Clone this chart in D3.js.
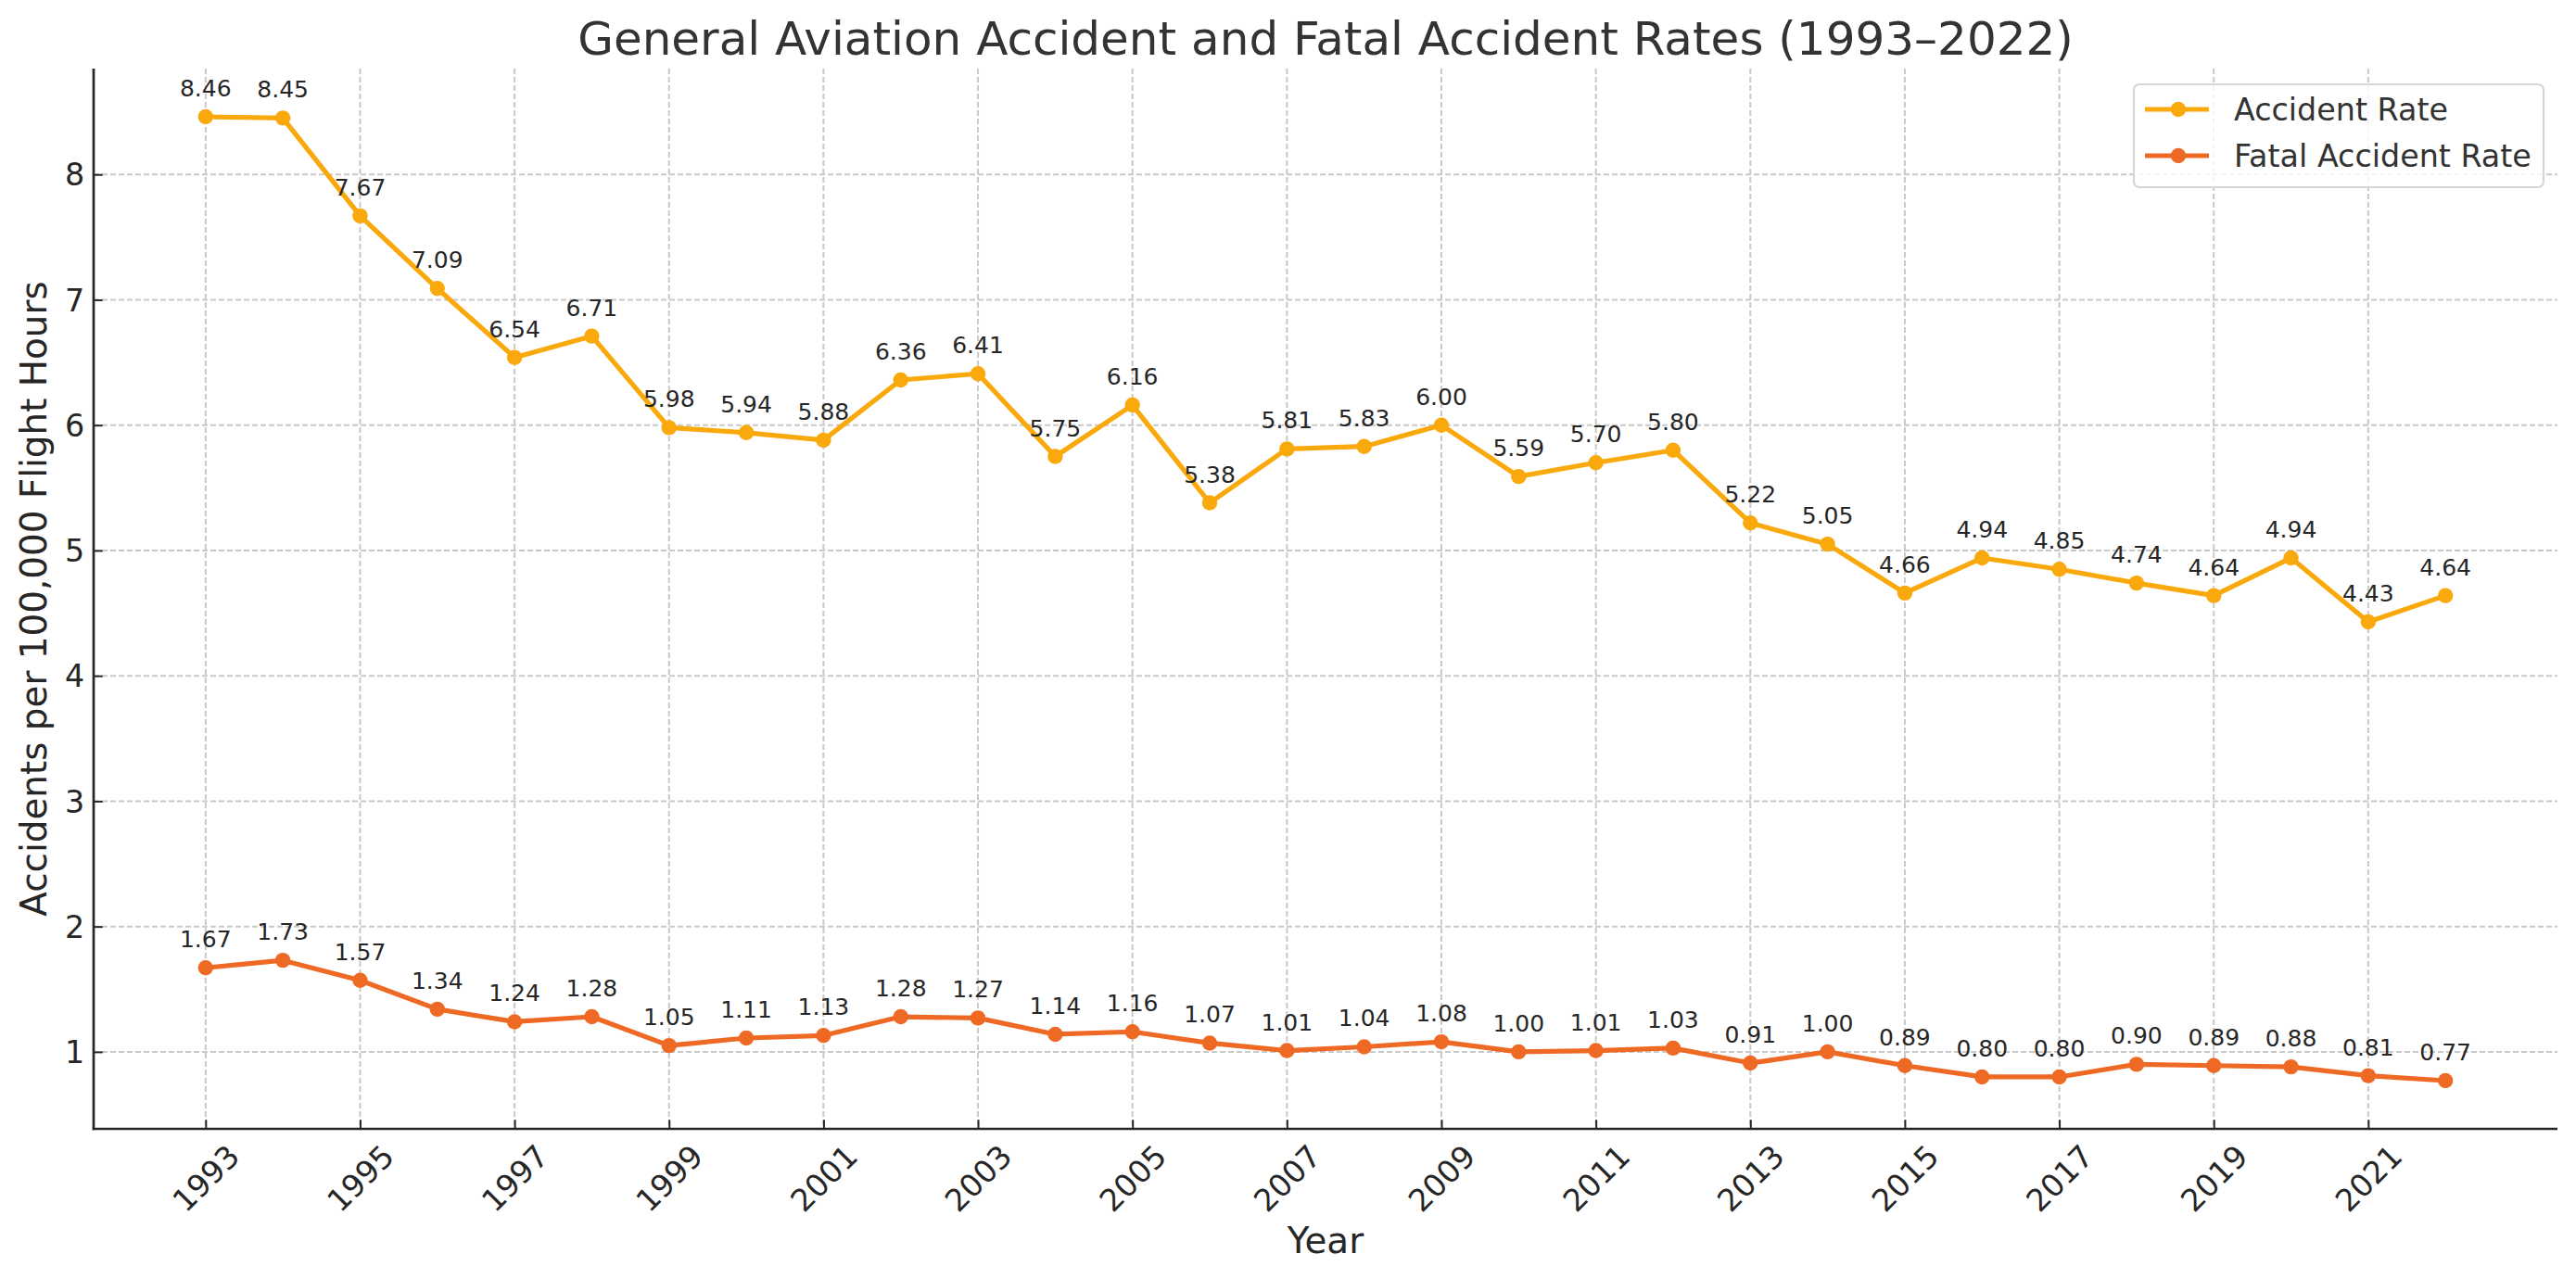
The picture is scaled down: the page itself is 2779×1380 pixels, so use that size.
<!DOCTYPE html>
<html>
<head>
<meta charset="utf-8">
<script src="https://cdn.jsdelivr.net/npm/d3@7"></script>
<style>
  body { margin: 0; background: #fff; }
  svg text { font-family: "DejaVu Sans", sans-serif; }
</style>
</head>
<body>
<div id="chart"></div>
<script>
// Data
const years = [1993, 1994, 1995, 1996, 1997, 1998, 1999, 2000, 2001, 2002,
               2003, 2004, 2005, 2006, 2007, 2008, 2009, 2010, 2011, 2012,
               2013, 2014, 2015, 2016, 2017, 2018, 2019, 2020, 2021, 2022];
const accidentRate = [8.46, 8.45, 7.67, 7.09, 6.54, 6.71, 5.98, 5.94, 5.88, 6.36,
                      6.41, 5.75, 6.16, 5.38, 5.81, 5.83, 6.00, 5.59, 5.70, 5.80,
                      5.22, 5.05, 4.66, 4.94, 4.85, 4.74, 4.64, 4.94, 4.43, 4.64];
const fatalRate = [1.67, 1.73, 1.57, 1.34, 1.24, 1.28, 1.05, 1.11, 1.13, 1.28,
                   1.27, 1.14, 1.16, 1.07, 1.01, 1.04, 1.08, 1.00, 1.01, 1.03,
                   0.91, 1.00, 0.89, 0.80, 0.80, 0.90, 0.89, 0.88, 0.81, 0.77];
const xTickYears = [1993, 1995, 1997, 1999, 2001, 2003, 2005, 2007,
                    2009, 2011, 2013, 2015, 2017, 2019, 2021];
const yTickValues = [1, 2, 3, 4, 5, 6, 7, 8];
const seriesNames = ["Accident Rate", "Fatal Accident Rate"];
const seriesColors = ["#f9a90b", "#ee6a24"];

const width = 2779;
const height = 1380;
const margin = { top: 74, right: 20, bottom: 162, left: 101 };
const pt = 200 / 72; // figure was drawn at 200 dpi

const series = seriesNames.map((name, i) => ({
    name: name,
    color: seriesColors[i],
    values: years.map((y, j) => ({ year: y, value: (i === 0 ? accidentRate : fatalRate)[j] }))
}));

// Scales padded by 5% like matplotlib autoscale
const xExt = d3.extent(years);
const xPad = (xExt[1] - xExt[0]) * 0.05;
const xScale = d3.scaleLinear()
    .domain([xExt[0] - xPad, xExt[1] + xPad])
    .range([margin.left, width - margin.right]);

const allValues = accidentRate.concat(fatalRate);
const yExt = d3.extent(allValues);
const yPad = (yExt[1] - yExt[0]) * 0.05;
const yScale = d3.scaleLinear()
    .domain([yExt[0] - yPad, yExt[1] + yPad])
    .range([height - margin.bottom, margin.top]);

const svg = d3.select("#chart")
    .append("svg")
    .attr("width", width)
    .attr("height", height)
    .attr("viewBox", `0 0 ${width} ${height}`);

svg.append("rect").attr("width", width).attr("height", height).attr("fill", "#fff");

const plotTop = margin.top;
const plotBottom = height - margin.bottom;
const plotLeft = margin.left;
const plotRight = width - margin.right;

// Grid
const grid = svg.append("g").attr("class", "grid")
    .attr("stroke", "#c9c9c9")
    .attr("stroke-width", 2)
    .attr("stroke-dasharray", "6,3");

grid.selectAll(".vgrid")
    .data(xTickYears)
    .enter()
    .append("line")
    .attr("x1", (d) => xScale(d))
    .attr("x2", (d) => xScale(d))
    .attr("y1", plotTop)
    .attr("y2", plotBottom);

grid.selectAll(".hgrid")
    .data(yTickValues)
    .enter()
    .append("line")
    .attr("x1", plotLeft)
    .attr("x2", plotRight)
    .attr("y1", (d) => yScale(d))
    .attr("y2", (d) => yScale(d));

// X axis (ticks point inward, labels rotated 45 degrees)
const xAxis = svg.append("g")
    .attr("id", "x-axis")
    .attr("transform", `translate(0, ${plotBottom})`)
    .call(
        d3.axisBottom(xScale)
            .tickValues(xTickYears)
            .tickFormat(d3.format("d"))
            .tickSizeInner(-3.5 * pt)
            .tickSizeOuter(0)
            .tickPadding(0)
    );
xAxis.select(".domain").remove();
xAxis.selectAll(".tick line").attr("stroke", "#262626").attr("stroke-width", 2);
xAxis.selectAll(".tick text")
    .attr("fill", "#262626")
    .style("font-size", `${12 * pt}px`)
    .attr("text-anchor", "middle")
    .attr("dy", "0.35em")
    .attr("y", null)
    .attr("transform", function () {
        const w = this.getComputedTextLength();
        const h = 12 * pt * 1.16;
        const c = 3.5 * pt + (w + h) * Math.SQRT1_2 / 2;
        return `translate(0, ${c}) rotate(-45)`;
    });

// Y axis
const yAxis = svg.append("g")
    .attr("id", "y-axis")
    .attr("transform", `translate(${plotLeft}, 0)`)
    .call(
        d3.axisLeft(yScale)
            .tickValues(yTickValues)
            .tickFormat(d3.format("d"))
            .tickSizeInner(-3.5 * pt)
            .tickSizeOuter(0)
            .tickPadding(3.5 * pt)
    );
yAxis.select(".domain").remove();
yAxis.selectAll(".tick line").attr("stroke", "#262626").attr("stroke-width", 2);
yAxis.selectAll(".tick text")
    .attr("fill", "#262626")
    .style("font-size", `${12 * pt}px`)
    .attr("x", -3.5 * pt)
    .attr("dy", "0.35em");

// Spines (left and bottom only)
svg.append("line")
    .attr("x1", plotLeft).attr("x2", plotLeft)
    .attr("y1", plotTop).attr("y2", plotBottom + 1.3)
    .attr("stroke", "#262626").attr("stroke-width", 2.7);
svg.append("line")
    .attr("x1", plotLeft - 1.3).attr("x2", plotRight)
    .attr("y1", plotBottom).attr("y2", plotBottom)
    .attr("stroke", "#262626").attr("stroke-width", 2.7);

// Lines and markers
const line = d3.line()
    .x((d) => xScale(d.year))
    .y((d) => yScale(d.value));

const seriesG = svg.selectAll(".series")
    .data(series)
    .enter()
    .append("g")
    .attr("class", "series");

seriesG.append("path")
    .attr("d", (d) => line(d.values))
    .attr("fill", "none")
    .attr("stroke", (d) => d.color)
    .attr("stroke-width", 5.2)
    .attr("stroke-linejoin", "round");

seriesG.each(function (s) {
    const g = d3.select(this);
    g.selectAll("circle")
        .data(s.values)
        .enter()
        .append("circle")
        .attr("cx", (d) => xScale(d.year))
        .attr("cy", (d) => yScale(d.value))
        .attr("r", 8.2)
        .attr("fill", s.color);

    // Value labels above each point
    g.selectAll(".value-label")
        .data(s.values)
        .enter()
        .append("text")
        .attr("class", "value-label")
        .attr("x", (d) => xScale(d.year))
        .attr("y", (d) => yScale(d.value) - 22)
        .attr("text-anchor", "middle")
        .attr("fill", "#262626")
        .style("font-size", `${9 * pt}px`)
        .text((d) => d.value.toFixed(2));
});

// Legend
const legendX = 2302, legendY = 91, legendW = 442, legendH = 111;
const legend = svg.append("g").attr("id", "legend");
legend.append("rect")
    .attr("x", legendX)
    .attr("y", legendY)
    .attr("width", legendW)
    .attr("height", legendH)
    .attr("rx", 6)
    .attr("fill", "#fff")
    .attr("fill-opacity", 0.8)
    .attr("stroke", "#d6d6d6")
    .attr("stroke-width", 2.2);

const legendRows = legend.selectAll(".legend-row")
    .data(series)
    .enter()
    .append("g")
    .attr("class", "legend-row")
    .attr("transform", (d, i) => `translate(${legendX}, ${legendY + 27 + i * 50})`);

legendRows.append("line")
    .attr("x1", 12).attr("x2", 81)
    .attr("y1", 0).attr("y2", 0)
    .attr("stroke", (d) => d.color)
    .attr("stroke-width", 5.2);
legendRows.append("circle")
    .attr("cx", 48).attr("cy", 0).attr("r", 8.2)
    .attr("fill", (d) => d.color);
legendRows.append("text")
    .attr("x", 108)
    .attr("dy", "0.35em")
    .attr("fill", "#333")
    .style("font-size", `${12 * pt}px`)
    .text((d) => d.name);

// Title and axis labels
const centerX = (plotLeft + plotRight) / 2;
svg.append("text")
    .attr("x", centerX)
    .attr("y", 59)
    .attr("text-anchor", "middle")
    .attr("fill", "#333")
    .style("font-size", `${18 * pt}px`)
    .text("General Aviation Accident and Fatal Accident Rates (1993–2022)");

svg.append("text")
    .attr("x", centerX)
    .attr("y", 1352)
    .attr("text-anchor", "middle")
    .attr("fill", "#262626")
    .style("font-size", `${14 * pt}px`)
    .text("Year");

svg.append("text")
    .attr("transform", `translate(50, ${(plotTop + plotBottom) / 2}) rotate(-90)`)
    .attr("text-anchor", "middle")
    .attr("fill", "#262626")
    .style("font-size", `${14 * pt}px`)
    .text("Accidents per 100,000 Flight Hours");
</script>
</body>
</html>
